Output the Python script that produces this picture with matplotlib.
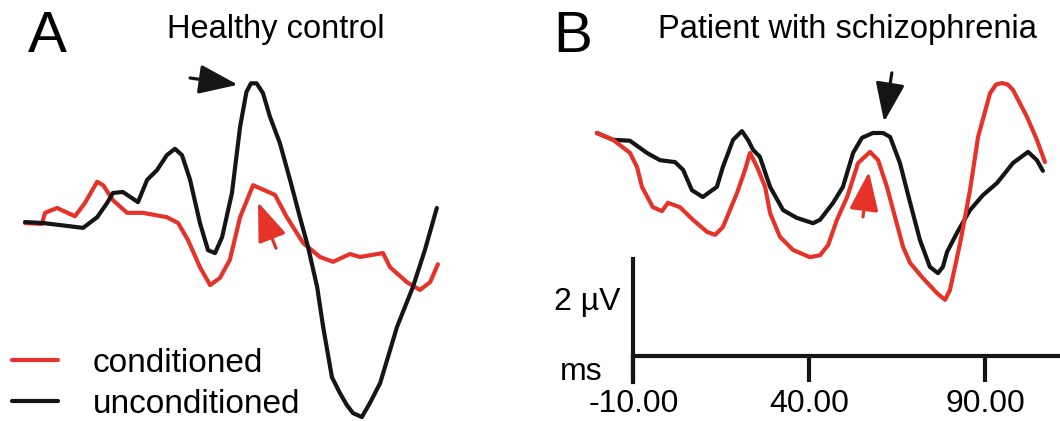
import matplotlib
matplotlib.use("Agg")
import matplotlib.pyplot as plt

plt.rcParams['font.family'] = ['Liberation Sans', 'DejaVu Sans']

RED = '#e5332a'
BLACK = '#151515'

# ---------------- data (time in ms, amplitude in µV) ----------------
# Panel A: healthy control
a_unc_t = [-20.4, -15.3, -3.9, 0.1, 2.9, 4.6, 7.4, 11.7, 14.3, 17.1, 19.9, 22.2, 24.2, 26.5,
           29.3, 31.6, 33.6, 35.6, 38.4, 40.7, 42.5, 43.8, 45.4, 47.2, 49.2, 52.0, 54.9, 57.7,
           60.0, 62.6, 64.3, 66.8, 69.1, 71.0, 72.8, 75.3, 77.6, 80.5, 85.3, 89.8, 93.2, 96.6]
a_unc_v = [0.02, 0.0, -0.10, 0.12, 0.41, 0.62, 0.64, 0.43, 0.89, 1.09, 1.40, 1.53, 1.40, 0.89,
           0.0, -0.56, -0.62, -0.29, 0.62, 1.98, 2.70, 2.88, 2.88, 2.68, 2.19, 1.65, 0.89, 0.12,
           -0.49, -1.32, -2.14, -3.18, -3.51, -3.75, -3.92, -4.00, -3.71, -3.30, -2.14, -1.32,
           -0.56, 0.31]

a_con_t = [-20.4, -15.6, -14.7, -11.3, -6.2, -3.4, 0.1, 1.8, 4.6, 8.6, 13.1, 19.9, 23.1, 25.9,
           29.3, 32.2, 35.0, 37.8, 40.7, 44.4, 50.6, 54.0, 58.6, 63.4, 67.1, 71.9, 74.8, 81.3,
           83.3, 88.1, 91.8, 94.7, 96.9]
a_con_v = [0.0, -0.02, 0.21, 0.31, 0.14, 0.41, 0.85, 0.78, 0.47, 0.21, 0.21, 0.12, 0.0, -0.35,
           -0.91, -1.28, -1.13, -0.76, 0.12, 0.78, 0.58, 0.12, -0.41, -0.70, -0.80, -0.64, -0.70,
           -0.62, -0.91, -1.22, -1.38, -1.22, -0.85]

# Panel B: patient with schizophrenia
b_unc_t = [-20.4, -15.8, -11.0, -6.2, -2.5, 1.8, 4.1, 6.6, 9.7, 11.2, 13.7, 15.4, 18.3, 20.8,
           22.5, 24.0, 25.9, 28.8, 32.5, 36.4, 41.0, 43.0, 46.7, 49.5, 52.4, 54.9, 58.0, 60.9,
           62.9, 65.7, 68.6, 71.4, 74.2, 76.5, 77.9, 79.1, 81.9, 85.6, 89.3, 93.3, 97.8, 102.1,
           104.6, 106.3]
b_unc_v = [0.0, -0.14, -0.16, -0.41, -0.56, -0.60, -0.76, -1.18, -1.32, -1.24, -1.11, -0.70,
           -0.14, 0.04, -0.14, -0.35, -0.49, -1.11, -1.59, -1.75, -1.86, -1.79, -1.44, -1.11,
           -0.41, -0.10, 0.0, 0.0, -0.08, -0.62, -1.44, -2.21, -2.76, -2.89, -2.76, -2.45, -2.06,
           -1.59, -1.28, -1.03, -0.62, -0.39, -0.56, -0.78]

b_con_t = [-20.4, -15.8, -11.0, -9.0, -7.6, -4.5, -1.9, -0.2, 3.2, 6.9, 10.9, 13.2, 15.4, 19.4,
           21.7, 23.1, 25.1, 27.4, 28.8, 31.6, 35.3, 40.1, 43.0, 45.3, 47.8, 50.7, 53.8, 57.2,
           59.5, 62.0, 64.3, 66.6, 68.6, 72.2, 76.2, 78.5, 79.9, 82.8, 85.6, 87.9, 91.3, 93.0,
           94.7, 96.3, 97.8, 101.8, 104.6, 106.9]
b_con_v = [0.0, -0.14, -0.41, -0.70, -1.11, -1.53, -1.61, -1.44, -1.53, -1.79, -2.04, -2.10,
           -1.94, -1.24, -0.76, -0.41, -0.70, -1.11, -1.65, -2.14, -2.41, -2.56, -2.52, -2.31,
           -1.79, -1.32, -0.62, -0.39, -0.56, -1.11, -1.73, -2.35, -2.68, -2.99, -3.30, -3.44,
           -3.24, -2.27, -1.18, -0.08, 0.82, 1.00, 1.03, 1.00, 0.89, 0.33, -0.14, -0.60]

tick_vals = [-10, 40, 90]
tick_labels = ['-10.00', '40.00', '90.00']
labels = ['conditioned', 'unconditioned']

# ---------------- figure ----------------
fig = plt.figure(figsize=(10.6, 4.21), dpi=100)
axA = fig.add_axes([0.0, 0.0, 0.5, 1.0])
axB = fig.add_axes([0.5, 0.0, 0.5, 1.0])

LW = 3.0
kw = dict(lw=LW, solid_joinstyle='round', solid_capstyle='round')
axA.plot(a_con_t, a_con_v, color=RED, label=labels[0], **kw)
axA.plot(a_unc_t, a_unc_v, color=BLACK, label=labels[1], **kw)
axB.plot(b_unc_t, b_unc_v, color=BLACK, **kw)
axB.plot(b_con_t, b_con_v, color=RED, **kw)

axA.set_xlim(-27.5, 123.07)
axA.set_ylim(-4.082, 4.598)
axB.set_xlim(-39.40, 111.17)
axB.set_ylim(-5.938, 2.742)

# panel A: no axes
axA.axis('off')

# panel B: scale-bar style axes
for s in ['top', 'right']:
    axB.spines[s].set_visible(False)
axB.spines['bottom'].set_position(('data', -4.598))
axB.spines['bottom'].set_bounds(-10, 111.17)
axB.spines['left'].set_position(('data', -10))
axB.spines['left'].set_bounds(-5.134, -2.598)
for s in ['bottom', 'left']:
    axB.spines[s].set_linewidth(3)
    axB.spines[s].set_color(BLACK)
axB.set_yticks([])
axB.set_xticks(tick_vals, labels=tick_labels)
axB.tick_params(axis='x', direction='out', length=19, width=3, color=BLACK,
                labelsize=23, pad=5)
axB.patch.set_visible(False)

axB.text(-13.8, -3.65, '2 µV', fontsize=23, ha='right', va='baseline')
axB.text(-18.7, -5.09, 'ms', fontsize=23, ha='right', va='baseline')

# arrows
def arrow(ax, tail, tip, color):
    ax.annotate('', xy=tip, xytext=tail,
                arrowprops=dict(arrowstyle='-|>,head_length=1.2,head_width=0.45',
                                color=color, lw=2.3, mutation_scale=20,
                                shrinkA=0, shrinkB=0))

arrow(axA, (26.5, 2.99), (40.1, 2.85), BLACK)
arrow(axA, (50.9, -0.52), (45.8, 0.43), RED)
arrow(axB, (63.4, 1.24), (61.2, 0.23), BLACK)
arrow(axB, (55.2, -1.73), (56.9, -0.80), RED)

# legend
leg = axA.legend(loc='lower left', bbox_to_anchor=(12 / 530, 1 / 421), frameon=False,
                 fontsize=24, handlelength=1.38, handletextpad=1.05, labelspacing=0.3,
                 borderpad=0, borderaxespad=0)

# titles
fig.text(28 / 1060, 1 - 52 / 421, 'A', fontsize=42, ha='left', va='baseline')
fig.text(167 / 1060, 1 - 38 / 421, 'Healthy control', fontsize=23.5, ha='left', va='baseline')
fig.text(553 / 1060, 1 - 52 / 421, 'B', fontsize=42, ha='left', va='baseline')
fig.text(658 / 1060, 1 - 38 / 421, 'Patient with schizophrenia', fontsize=23.5, ha='left', va='baseline')

fig.savefig('out.png', dpi=100)
